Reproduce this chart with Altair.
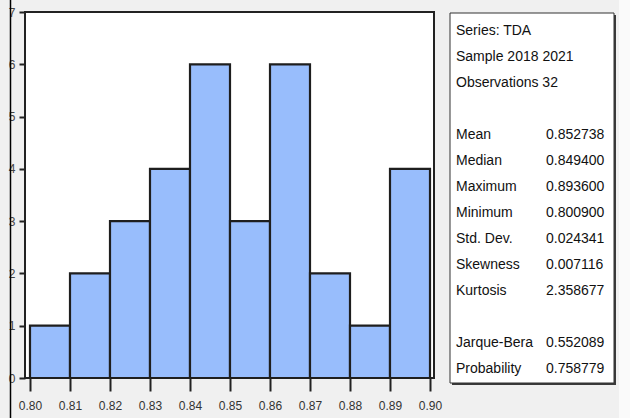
import altair as alt
import pandas as pd

# Histogram of TDA, bins of width 0.01
bin_start = [0.80, 0.81, 0.82, 0.83, 0.84, 0.85, 0.86, 0.87, 0.88, 0.89]
bin_end = [0.81, 0.82, 0.83, 0.84, 0.85, 0.86, 0.87, 0.88, 0.89, 0.90]
counts = [1, 2, 3, 4, 6, 3, 6, 2, 1, 4]

# Descriptive statistics panel
stat_labels = ["Series: TDA", "Sample 2018 2021", "Observations 32",
               "Mean", "Median", "Maximum", "Minimum", "Std. Dev.",
               "Skewness", "Kurtosis", "Jarque-Bera", "Probability"]
stat_values = ["", "", "",
               "0.852738", "0.849400", "0.893600", "0.800900", "0.024341",
               "0.007116", "2.358677", "0.552089", "0.758779"]
stat_rows = [0, 1, 2, 4, 5, 6, 7, 8, 9, 10, 12, 13]

x_ticks = [0.80, 0.81, 0.82, 0.83, 0.84, 0.85, 0.86, 0.87, 0.88, 0.89, 0.90]

W, H = 409, 366
FONT = "Liberation Sans"
NARROW = "Liberation Sans Narrow, Liberation Sans"

hist = pd.DataFrame({"start": bin_start, "end": bin_end, "count": counts})
stats = pd.DataFrame({"label": stat_labels, "value": stat_values, "row": stat_rows})
one = pd.DataFrame({"a": [0]})

x_scale = alt.Scale(domain=[0.79875, 0.901], nice=False, zero=False)
y_scale = alt.Scale(domain=[0, 7], nice=False)

bars = alt.Chart(hist).mark_rect(
    fill="#98bdfc", stroke="#1e1e1e", strokeWidth=2.2
).encode(
    x=alt.X("start:Q", scale=x_scale, title=None,
            axis=alt.Axis(values=x_ticks, format=".2f", domain=False,
                          tickSize=13, tickWidth=2, tickColor="#222222",
                          labelFont=NARROW, labelFontSize=12, labelColor="#333333",
                          labelPadding=9, grid=False)),
    x2="end:Q",
    y=alt.Y("count:Q", scale=y_scale, title=None,
            axis=alt.Axis(values=list(range(8)), domain=False, tickSize=6,
                          tickWidth=2, tickColor="#222222", labelFont=NARROW,
                          labelFontSize=12, labelColor="#444444",
                          labelPadding=4, grid=False)),
    y2=alt.datum(0),
)

left_rule = alt.Chart(one).mark_rule(color="#000000", strokeWidth=1.5).encode(
    x=alt.value(-14.5), y=alt.value(-12), y2=alt.value(406)
)

right_strip = alt.Chart(one).mark_rect(fill="#fafafa").encode(
    x=alt.value(594), x2=alt.value(605), y=alt.value(-12), y2=alt.value(406)
)

box_shadow = alt.Chart(one).mark_rect(fill="#3a3a3a").encode(
    x=alt.value(427), x2=alt.value(591), y=alt.value(3), y2=alt.value(373)
)
box = alt.Chart(one).mark_rect(fill="white", stroke="#333333", strokeWidth=1).encode(
    x=alt.value(425), x2=alt.value(589), y=alt.value(1), y2=alt.value(371)
)

row_scale = alt.Scale(domain=[0, 13], range=[19, 357])
stat_text = alt.Chart(stats).mark_text(
    align="left", baseline="middle", font=FONT, fontSize=14, color="#111111"
).encode(
    x=alt.value(431),
    y=alt.Y("row:Q", scale=row_scale, axis=None),
    text="label:N",
)
stat_vals = alt.Chart(stats).mark_text(
    align="left", baseline="middle", font=FONT, fontSize=14, color="#111111"
).encode(
    x=alt.value(521),
    y=alt.Y("row:Q", scale=row_scale, axis=None),
    text="value:N",
)

chart = alt.layer(
    right_strip, left_rule, bars, box_shadow, box, stat_text, stat_vals
).resolve_scale(y="independent").properties(
    width=W, height=H,
    autosize=alt.AutoSizeParams(type="none"),
    padding={"left": 25, "top": 12, "right": 196, "bottom": 40},
    background="#f0f0f0",
).configure_view(
    fill="white", stroke="#222222", strokeWidth=2
)

chart.save("out.html", embed_options={"renderer": "svg", "actions": False})
